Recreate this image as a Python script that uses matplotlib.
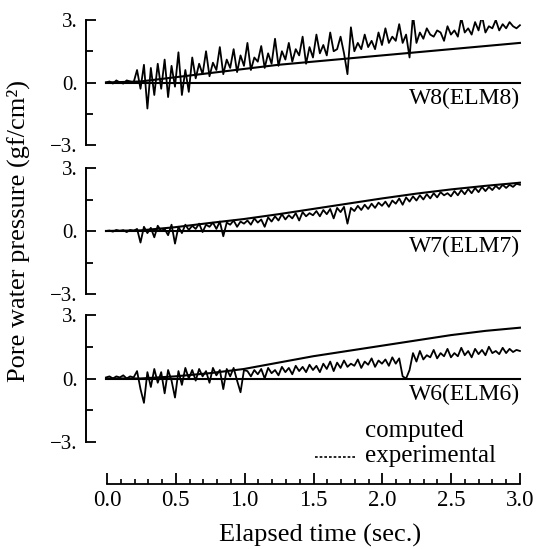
import matplotlib
matplotlib.use('Agg')
import matplotlib.pyplot as plt
import numpy as np
from matplotlib.lines import Line2D

plt.rcParams['font.family'] = ['Liberation Serif', 'DejaVu Serif']

# ========== DATA ==========
# experimental records sampled every 0.025 s (0.0 .. 3.0)
t_exp = np.arange(121) * 0.025
# computed curves, every 0.25 s
t_comp = [0.0, 0.25, 0.5, 0.75, 1.0, 1.25, 1.5, 1.75, 2.0, 2.25, 2.5, 2.75, 3.0]

w8_comp = [0.0, 0.05, 0.25, 0.45, 0.65, 0.85, 1.0, 1.15, 1.3, 1.45, 1.6, 1.75, 1.9]
w7_comp = [0.0, 0.03, 0.18, 0.38, 0.57, 0.8, 1.05, 1.3, 1.55, 1.78, 1.98, 2.15, 2.3]
w6_comp = [0.0, 0.0, 0.1, 0.25, 0.45, 0.75, 1.05, 1.3, 1.55, 1.8, 2.05, 2.25, 2.4]

w8_exp = [0.00, 0.05, -0.05, 0.10, 0.00, -0.05, 0.10, 0.05, 0.00,
          0.60, -0.30, 0.85, -1.25, 0.70, -0.60, 0.90, -0.30, 1.10, -0.70, 0.80, -0.20, 1.45, -0.60, 0.60, -0.45,
          1.20, 0.20, 0.90, 0.40, 1.50, 0.30, 0.95, 0.60, 1.70, 0.40, 1.10, 0.70, 1.60, 0.50, 1.30, 0.80,
          1.90, 0.60, 1.20, 1.00, 1.75, 0.70, 1.40, 0.90, 2.10, 0.80, 1.50, 1.10, 1.90, 1.00, 1.60, 1.30, 2.20, 0.90, 1.70, 1.20,
          2.30, 1.40, 1.80, 1.30, 2.40, 1.50, 1.60, 2.20, 1.40, 0.40, 2.65, 1.50, 1.90, 1.60, 2.30, 1.70, 2.00, 1.60, 2.40, 1.80,
          2.60, 1.90, 2.20, 2.00, 2.80, 1.90, 2.30, 1.20, 3.25, 1.90, 2.40, 2.10, 2.60, 2.30, 2.20, 2.50, 2.40, 2.00, 2.70, 2.30,
          2.50, 2.20, 3.10, 2.40, 2.60, 2.30, 2.90, 2.50, 3.20, 2.40, 2.70, 2.60, 3.00, 2.50, 2.80, 2.60, 2.90, 2.70, 2.60, 2.75]

w7_exp = [0.0, 0.02, -0.03, 0.05, 0.0, 0.04, -0.05, 0.05, 0.0,
          0.1, -0.55, 0.2, -0.1, 0.15, -0.3, 0.25, 0.0, 0.1, -0.2, 0.3, -0.6, 0.2, -0.1, 0.3, 0.05,
          0.25, 0.1, 0.35, -0.05, 0.3, 0.2, 0.4, 0.1, 0.45, -0.25, 0.4, 0.3, 0.5, 0.2, 0.45, 0.35,
          0.5, 0.3, 0.6, 0.4, 0.55, 0.2, 0.65, 0.45, 0.7, 0.5, 0.8, 0.55, 0.75, 0.6, 0.85, 0.5, 0.9, 0.7, 0.85, 0.75,
          0.95, 0.7, 1.0, 0.8, 1.05, 0.6, 1.1, 0.9, 1.15, 0.35, 1.1, 0.95, 1.2, 1.0, 1.25, 1.05, 1.3, 1.1, 1.35, 1.2,
          1.4, 1.15, 1.45, 1.3, 1.55, 1.25, 1.6, 1.4, 1.65, 1.45, 1.7, 1.5, 1.75, 1.55, 1.8, 1.6, 1.85, 1.7, 1.8, 1.65,
          1.9, 1.7, 1.95, 1.75, 2.0, 1.8, 2.05, 1.85, 2.1, 1.9, 2.1, 1.95, 2.15, 2.0, 2.2, 2.05, 2.2, 2.1, 2.25, 2.2]

w6_exp = [0.05, 0.1, 0.0, 0.1, 0.05, 0.15, 0.0, 0.1, 0.05,
          0.35, -0.5, -1.15, 0.3, -0.4, 0.45, -0.2, 0.3, -0.7, 0.4, -0.1, -0.9, 0.35, -0.3, 0.5, 0.0,
          0.4, -0.1, 0.45, 0.1, 0.35, -0.2, 0.5, 0.15, 0.4, -0.5, 0.45, 0.1, 0.5, -0.1, -0.65, 0.4,
          0.35, 0.1, 0.4, 0.2, 0.45, 0.0, 0.5, 0.25, 0.4, 0.15, 0.55, 0.3, 0.5, 0.2, 0.6, 0.35, 0.55, 0.3, 0.65, 0.4,
          0.6, 0.3, 0.7, 0.45, 0.8, 0.35, 0.75, 0.5, 0.85, 0.55, 0.7, 0.6, 0.9, 0.5, 0.8, 0.65, 0.95, 0.55, 0.85, 0.7,
          0.9, 0.6, 1.0, 0.7, 0.95, 0.1, 0.0, 0.4, 1.2, 0.8, 1.3, 0.9, 1.1, 1.0, 1.35, 0.95, 1.2, 1.05, 1.4, 1.0,
          1.2, 1.05, 1.45, 1.1, 1.3, 1.0, 1.4, 1.15, 1.35, 1.1, 1.5, 1.2, 1.3, 1.15, 1.45, 1.2, 1.4, 1.25, 1.35, 1.3]

labels = ['W8(ELM8)', 'W7(ELM7)', 'W6(ELM6)']
yticks = [-3, 0, 3]
ytick_labels = ['\u22123.', '0.', '3.']
xticks = [0.0, 0.5, 1.0, 1.5, 2.0, 2.5, 3.0]

# ========== FIGURE ==========
W, H = 540, 549
fig = plt.figure(figsize=(W / 100, H / 100), dpi=100)

def fbox(x0, y0, x1, y1):
    # pixel box (top-left origin) -> figure fraction rect
    return [x0 / W, 1 - y1 / H, (x1 - x0) / W, (y1 - y0) / H]

panels = [(20, 145), (168, 294), (315, 442)]
series = [(w8_comp, w8_exp), (w7_comp, w7_exp), (w6_comp, w6_exp)]

for (top, bot), (comp, exp), lab in zip(panels, series, labels):
    ax = fig.add_axes(fbox(86, top, 522, bot))
    ax.set_xlim(-0.145, 3.015)
    ax.set_ylim(-3, 3)
    for s in ['top', 'right', 'bottom']:
        ax.spines[s].set_visible(False)
    ax.spines['left'].set_linewidth(1.4)
    ax.axhline(0, xmin=0.145 / 3.16, xmax=(0.145 + 3.0) / 3.16, color='black', lw=1.5)
    ax.plot(t_comp, comp, color='black', lw=1.5)
    ax.plot(t_exp, exp, color='black', lw=1.3)
    ax.set_xticks([])
    ax.set_yticks(yticks)
    ax.set_yticklabels(ytick_labels)
    ax.set_yticks([-1.5, 1.5], minor=True)
    ax.tick_params(axis='y', which='major', direction='in', length=7.5, width=1.3,
                   labelsize=15, pad=6)
    ax.tick_params(axis='y', which='minor', direction='in', length=5, width=1.3)
    ax.text(3.0, -0.75, lab, ha='right', va='center', fontsize=17)

# bottom time axis
axx = fig.add_axes(fbox(107, 440, 520, 484))
axx.set_xlim(0, 3.0)
axx.set_ylim(0, 1)
for s in ['top', 'right', 'left']:
    axx.spines[s].set_visible(False)
axx.spines['bottom'].set_linewidth(1.3)
axx.set_yticks([])
axx.set_xticks(xticks)
axx.set_xticklabels([f'{v:.1f}' for v in xticks])
axx.set_xticks(np.arange(31) * 0.1, minor=True)
axx.tick_params(axis='x', which='major', direction='in', length=8, width=1.3,
                labelsize=16.5, pad=4)
axx.tick_params(axis='x', which='minor', direction='in', length=3.5, width=1.2)
axx.patch.set_alpha(0)

# legend drawn as text
fig.text(365 / W, 1 - 431 / H, 'computed', ha='left', va='center', fontsize=18)
fig.text(365 / W, 1 - 456 / H, 'experimental', ha='left', va='center', fontsize=18)
fig.add_artist(Line2D([315 / W, 355 / W], [1 - 457 / H, 1 - 457 / H], color='black',
                      lw=1.2, linestyle=(0, (1.6, 1.2))))

fig.text(18 / W, 1 - 231 / H, 'Pore water pressure (gf/cm\u00b2)', rotation=90,
         ha='center', va='center', fontsize=19)
fig.text(320 / W, 1 - 535 / H, 'Elapsed time (sec.)', ha='center', va='center', fontsize=19)

plt.savefig('out.png', dpi=100)
plt.close()
